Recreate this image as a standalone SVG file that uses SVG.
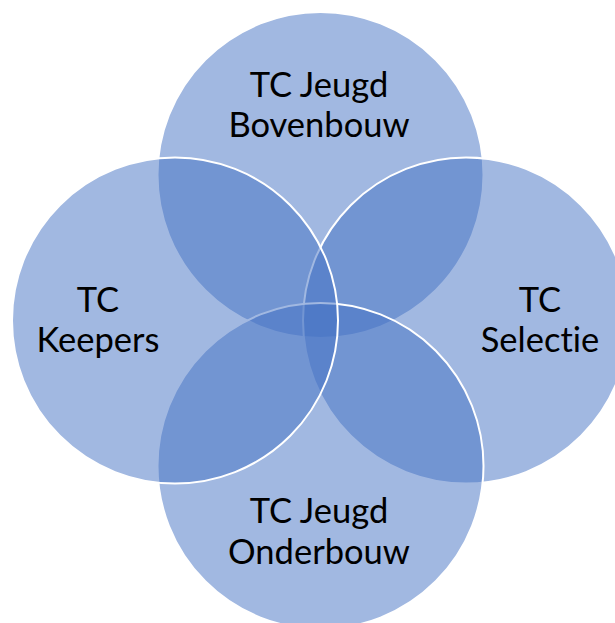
<svg xmlns="http://www.w3.org/2000/svg" width="615" height="623" viewBox="0 0 615 623">
  <style>
    .c { fill: #4472C4; fill-opacity: 0.5; stroke: #FFFFFF; stroke-width: 2; }
    .t { font-family: Lato, "Open Sans", "Liberation Sans", sans-serif; font-size: 34.5px; fill: #000000; text-anchor: middle; font-variant-ligatures: none; font-feature-settings: "liga" 0, "clig" 0; }
  </style>
  <rect x="0" y="0" width="615" height="623" fill="#FFFFFF"/>
  <g id="node-bovenbouw">
    <circle class="c" cx="320.5" cy="175" r="163"/>
    <text class="t" x="319" y="97">TC Jeugd</text>
    <text class="t" x="319" y="137">Bovenbouw</text>
  </g>
  <g id="node-selectie">
    <circle class="c" cx="466" cy="320.5" r="163"/>
    <text class="t" x="540" y="312">TC</text>
    <text class="t" x="540" y="352">Selectie</text>
  </g>
  <g id="node-onderbouw">
    <circle class="c" cx="320.5" cy="466" r="163"/>
    <text class="t" x="319" y="523">TC Jeugd</text>
    <text class="t" x="319" y="564">Onderbouw</text>
  </g>
  <g id="node-keepers">
    <circle class="c" cx="175" cy="320.5" r="163"/>
    <text class="t" x="98" y="312">TC</text>
    <text class="t" x="98" y="352">Keepers</text>
  </g>
  <g id="connectors"/>
</svg>
